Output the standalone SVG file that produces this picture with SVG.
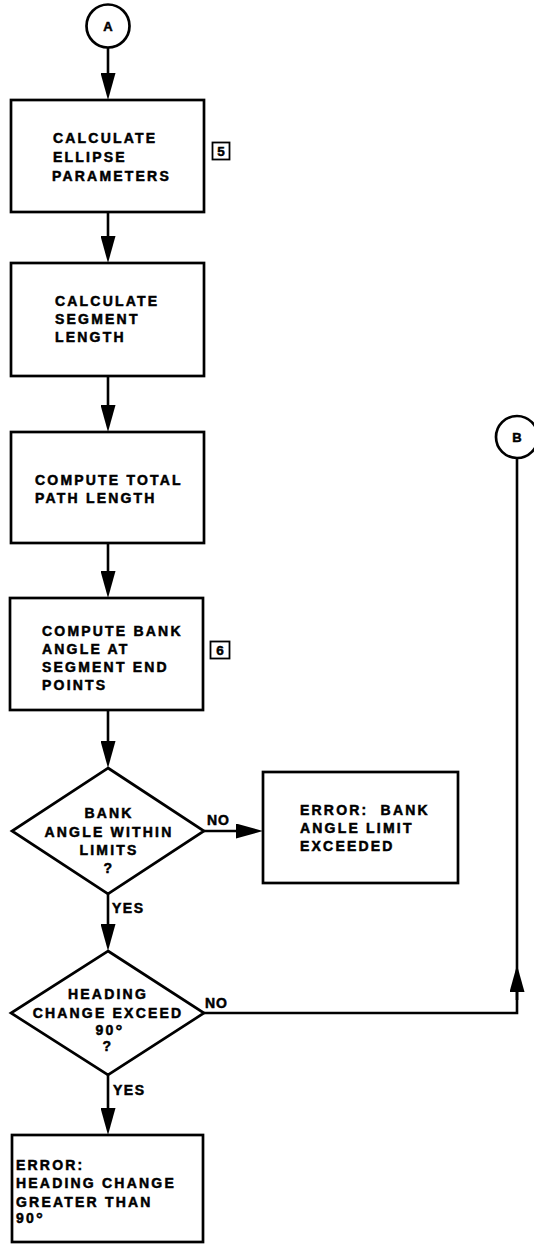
<svg xmlns="http://www.w3.org/2000/svg" width="534" height="1246" viewBox="0 0 534 1246">
  <style>
    .shape { fill: #fff; stroke: #000; stroke-width: 2.7; }
    .tag { fill: #fff; stroke: #000; stroke-width: 1.8; }
    .line { fill: none; stroke: #000; stroke-width: 2.6; }
    text { font-family: "Liberation Sans", Arial, Helvetica, sans-serif; font-weight: bold; font-size: 14px; fill: #000; stroke: #000; stroke-width: 0.5px; letter-spacing: 2.2px; }
    .c { text-anchor: middle; }
    .small { font-size: 13px; letter-spacing: 0; }
    .num { font-size: 13.5px; letter-spacing: 0; text-anchor: middle; }
  </style>
  <defs>
    <marker id="arrow" markerUnits="userSpaceOnUse" viewBox="0 0 27 15" markerWidth="27" markerHeight="15" refX="17" refY="7.5" orient="auto">
      <path d="M0,0 L27,7.5 L0,15 Z" fill="#000"/>
    </marker>
  </defs>

  <!-- connectors -->
  <g id="connectors">
    <path class="line" d="M108,48 V90" marker-end="url(#arrow)"/>
    <path class="line" d="M108,212 V253" marker-end="url(#arrow)"/>
    <path class="line" d="M108,376 V422" marker-end="url(#arrow)"/>
    <path class="line" d="M108,543 V588" marker-end="url(#arrow)"/>
    <path class="line" d="M108,710 V758" marker-end="url(#arrow)"/>
    <path class="line" d="M204,831 H253" marker-end="url(#arrow)"/>
    <path class="line" d="M108,894 V941" marker-end="url(#arrow)"/>
    <path class="line" d="M108,1075 V1125" marker-end="url(#arrow)"/>
    <path class="line" d="M204,1013 H517 V458"/>
    <path class="line" d="M517,1000 V975" marker-end="url(#arrow)"/>
    <text x="207" y="825" style="letter-spacing:1px">NO</text>
    <text x="112" y="913" style="letter-spacing:1.5px">YES</text>
    <text x="205" y="1008" style="letter-spacing:1px">NO</text>
    <text x="113" y="1095" style="letter-spacing:1.5px">YES</text>
  </g>

  <!-- connector A -->
  <g id="connector-a">
    <circle class="shape" cx="108" cy="26" r="21.5"/>
    <text class="small c" x="108" y="30.5">A</text>
  </g>

  <!-- connector B -->
  <g id="connector-b">
    <circle class="shape" cx="517" cy="437" r="21"/>
    <text class="small c" x="517" y="441.5">B</text>
  </g>

  <g id="calc-ellipse">
    <rect class="shape" x="11" y="100" width="193" height="112"/>
    <text x="53" y="143">CALCULATE</text>
    <text x="53" y="162">ELLIPSE</text>
    <text x="52" y="181">PARAMETERS</text>
    <rect class="tag" x="212.5" y="142.5" width="17" height="17"/>
    <text class="num" x="221" y="156">5</text>
  </g>

  <g id="calc-segment">
    <rect class="shape" x="11" y="263" width="193" height="113"/>
    <text x="55" y="306">CALCULATE</text>
    <text x="55" y="324">SEGMENT</text>
    <text x="55" y="342">LENGTH</text>
  </g>

  <g id="total-path">
    <rect class="shape" x="11" y="432" width="193" height="111"/>
    <text x="35" y="485">COMPUTE TOTAL</text>
    <text x="35" y="503">PATH LENGTH</text>
  </g>

  <g id="bank-angle">
    <rect class="shape" x="10" y="598" width="193" height="112"/>
    <text x="42" y="636">COMPUTE BANK</text>
    <text x="42" y="654">ANGLE AT</text>
    <text x="42" y="672">SEGMENT END</text>
    <text x="42" y="690">POINTS</text>
    <rect class="tag" x="210.5" y="641.5" width="19" height="17"/>
    <text class="num" x="220" y="655">6</text>
  </g>

  <g id="bank-check">
    <polygon class="shape" points="108,768 204,831 108,894 12,831"/>
    <text class="c" x="109" y="818">BANK</text>
    <text class="c" x="109" y="837">ANGLE WITHIN</text>
    <text class="c" x="109" y="855">LIMITS</text>
    <text class="c" x="109" y="873">?</text>
  </g>

  <g id="bank-error">
    <rect class="shape" x="263" y="772" width="195" height="111"/>
    <text x="300" y="815" xml:space="preserve">ERROR:  BANK</text>
    <text x="300" y="833">ANGLE LIMIT</text>
    <text x="300" y="851">EXCEEDED</text>
  </g>

  <g id="heading-check">
    <polygon class="shape" points="108,951 204,1013 108,1075 11,1013"/>
    <text class="c" x="108" y="999">HEADING</text>
    <text class="c" x="108" y="1018">CHANGE EXCEED</text>
    <text class="c" x="110" y="1035">90<tspan font-size="17" dy="2">°</tspan></text>
    <text class="c" x="108" y="1051">?</text>
  </g>

  <g id="heading-error">
    <rect class="shape" x="12" y="1135" width="191" height="107"/>
    <text x="16" y="1170">ERROR:</text>
    <text x="16" y="1188">HEADING CHANGE</text>
    <text x="16" y="1207">GREATER THAN</text>
    <text x="16" y="1223">90<tspan font-size="17" dy="2">°</tspan></text>
  </g>
</svg>
